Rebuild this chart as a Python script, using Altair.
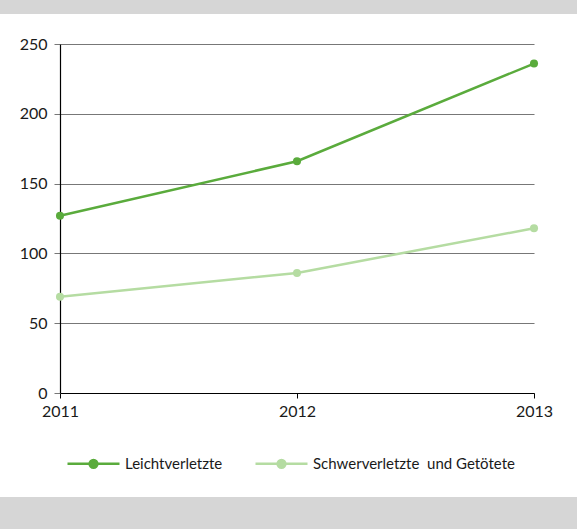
import altair as alt
import pandas as pd

years = [2011, 2012, 2013]
leicht = [127, 166, 236]
schwer = [69, 86, 118]
series_names = ["Leichtverletzte", "Schwerverletzte\u00a0 und Getötete"]
colors = ["#5aab3c", "#b5dca2"]
y_ticks = [0, 50, 100, 150, 200, 250]

rows = []
for name, vals in zip(series_names, [leicht, schwer]):
    for yr, v in zip(years, vals):
        rows.append({"Jahr": yr, "Wert": v, "Serie": name})
df = pd.DataFrame(rows)

FONT = "Lato"
FS = 16
color_scale = alt.Scale(domain=series_names, range=colors)

x_enc = alt.X(
    "Jahr:O",
    scale=alt.Scale(type="point", padding=0),
    axis=alt.Axis(title=None, labelAngle=0, labelOverlap=False, grid=False,
                  tickSize=5, domainColor="black", tickColor="black",
                  labelPadding=5, labelFontSize=FS, labelColor="#1a1a1a",
                  labelFont=FONT, domainWidth=1.2),
)
y_enc = alt.Y(
    "Wert:Q",
    scale=alt.Scale(domain=[0, 250], nice=False),
    axis=alt.Axis(values=y_ticks, title=None, grid=True, gridColor="#777777",
                  gridWidth=1.2, tickSize=6, tickColor="#777777", domainColor="black",
                  domainWidth=1.2, labelPadding=7, labelFontSize=FS,
                  labelColor="#1a1a1a", labelFont=FONT, labelOverlap=False),
)

legend = alt.Legend(
    title=None, orient="none", legendX=6, legendY=392, direction="horizontal",
    symbolType="M-1,0L1,0M-0.15,0A0.15,0.15,0,1,1,0.15,0A0.15,0.15,0,1,1,-0.15,0Z",
    symbolSize=2704, symbolStrokeWidth=2.5, labelFontSize=15, labelFont=FONT,
    labelColor="#1a1a1a", labelOffset=4, columnPadding=27, labelLimit=400,
)

base = alt.Chart(df)
lines = base.mark_line(strokeWidth=2.5).encode(
    x=x_enc, y=y_enc,
    color=alt.Color("Serie:N", scale=color_scale, sort=series_names, legend=legend),
)
points = base.mark_circle(size=65, opacity=1).encode(
    x=x_enc, y=y_enc,
    color=alt.Color("Serie:N", scale=color_scale, sort=series_names, legend=legend),
)

band_src = pd.DataFrame({"k": [0]})
top_band = alt.Chart(band_src).mark_rect(color="#d6d6d6").encode(
    x=alt.value(-60), x2=alt.value(517), y=alt.value(-44), y2=alt.value(-30)
)
bottom_band = alt.Chart(band_src).mark_rect(color="#d6d6d6").encode(
    x=alt.value(-60), x2=alt.value(517), y=alt.value(453), y2=alt.value(485)
)

chart = alt.layer(top_band, bottom_band, lines, points).properties(
    width=474, height=349,
    autosize=alt.AutoSizeParams(type="none"),
    padding={"left": 60, "top": 44, "right": 43, "bottom": 136},
    background="white",
).configure_view(stroke=None)

chart.save("out.html", embed_options={"renderer": "svg", "actions": False})
